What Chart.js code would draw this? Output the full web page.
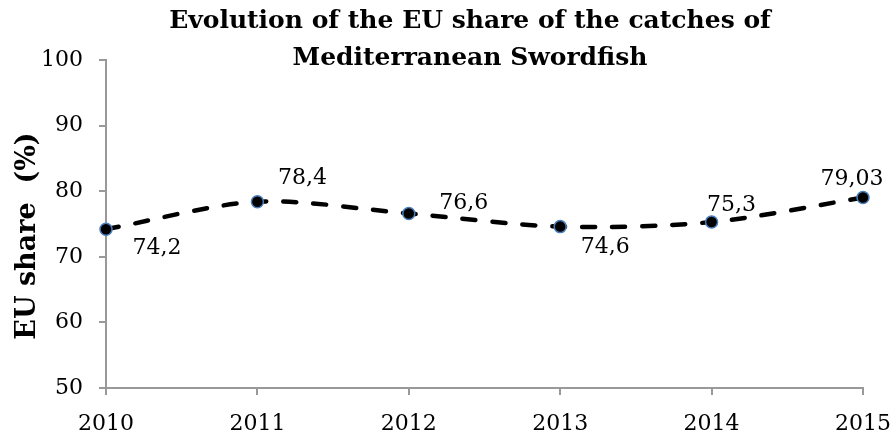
<!DOCTYPE html>
<html lang="en">
<head>
<meta charset="UTF-8">
<title>EU share of Mediterranean Swordfish catches</title>
<script src="https://cdn.jsdelivr.net/npm/chart.js"></script>
<style>
  html, body { margin: 0; padding: 0; background: #fff; }
  #wrap { width: 895px; height: 441px; position: relative; }
</style>
</head>
<body>
<div id="wrap"><canvas id="chart"></canvas></div>
<script>
// data
const years = ['2010', '2011', '2012', '2013', '2014', '2015'];
const euShare = [74.2, 78.4, 76.6, 74.6, 75.3, 79.03];
const shareLabels = ['74,2', '78,4', '76,6', '74,6', '75,3', '79,03'];
const titleLines = ['Evolution of the EU share of the catches of', 'Mediterranean Swordfish'];
const yTitle = 'EU share  (%)';

// where each value label sits relative to its point (px)
const labelOffsets = [[51, 19], [45, -23], [55, -10], [45, 21], [20, -17], [-11, -18]];

const serif = "'DejaVu Serif', 'Liberation Serif', serif";

const overlay = {
  id: 'overlay',
  afterDraw(chart) {
    const ctx = chart.ctx;
    const meta = chart.getDatasetMeta(0);
    ctx.save();
    ctx.fillStyle = '#000';
    ctx.textAlign = 'center';
    ctx.textBaseline = 'middle';

    // value labels
    ctx.font = '22px ' + serif;
    meta.data.forEach((pt, i) => {
      const off = labelOffsets[i];
      ctx.fillText(shareLabels[i], pt.x + off[0], pt.y + off[1]);
    });

    // title
    ctx.font = 'bold 25px ' + serif;
    ctx.fillText(titleLines[0], 470, 21);
    ctx.fillText(titleLines[1], 470, 58);

    // y axis title
    ctx.translate(28, 236);
    ctx.rotate(-Math.PI / 2);
    ctx.font = 'bold 27px ' + serif;
    ctx.fillText(yTitle, 0, 0);
    ctx.restore();
  }
};

new Chart(document.getElementById('chart'), {
  type: 'line',
  data: {
    labels: years,
    datasets: [{
      data: euShare,
      borderColor: '#000',
      borderWidth: 4.5,
      borderDash: [13, 17],
      borderCapStyle: 'round',
      tension: 0.3,
      fill: false,
      pointRadius: 6,
      pointHoverRadius: 6,
      pointBackgroundColor: '#000',
      pointBorderColor: '#4a7ebb',
      pointBorderWidth: 1.5,
      clip: false
    }]
  },
  options: {
    responsive: true,
    maintainAspectRatio: false,
    animation: false,
    events: [],
    layout: { padding: { left: 0, right: 32, top: 60, bottom: 0 } },
    plugins: {
      legend: { display: false },
      title: { display: false },
      tooltip: { enabled: false }
    },
    scales: {
      x: {
        type: 'category',
        offset: false,
        afterFit(scale) {
          scale.height = 53;
          scale.paddingLeft = 0;
          scale.paddingRight = 0;
        },
        grid: {
          offset: false,
          drawOnChartArea: false,
          drawTicks: true,
          tickLength: 7,
          color: '#999',
          lineWidth: 2
        },
        border: { color: '#999', width: 2 },
        ticks: {
          color: '#000',
          padding: 16,
          maxRotation: 0,
          autoSkip: false,
          font: { family: serif, size: 22 }
        }
      },
      y: {
        min: 50,
        max: 100,
        afterFit(scale) { scale.width = 106; },
        grid: {
          drawOnChartArea: false,
          drawTicks: true,
          tickLength: 7,
          color: '#999',
          lineWidth: 2
        },
        border: { color: '#999', width: 2 },
        ticks: {
          stepSize: 10,
          color: '#000',
          padding: 16,
          font: { family: serif, size: 22 }
        }
      }
    }
  },
  plugins: [overlay]
});
</script>
</body>
</html>
